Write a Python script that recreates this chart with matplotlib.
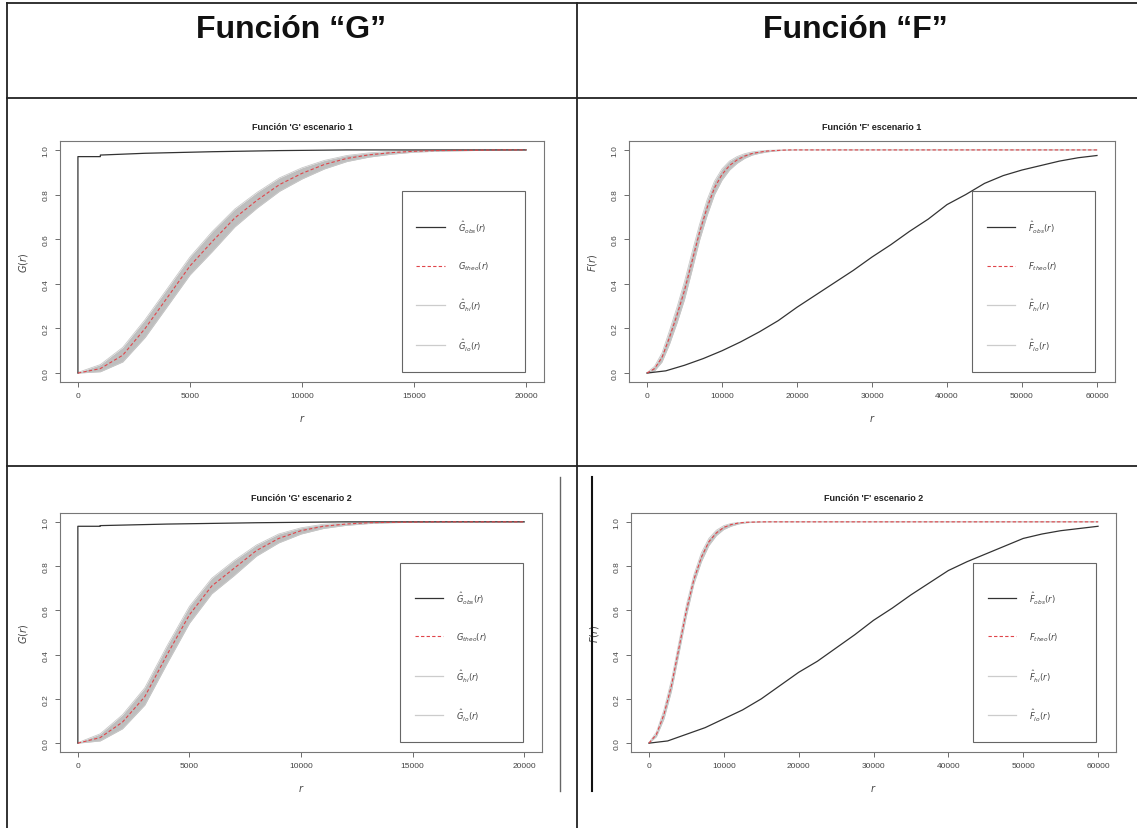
import matplotlib
matplotlib.use('Agg')
import matplotlib.pyplot as plt
from matplotlib.lines import Line2D
from matplotlib.patches import Rectangle

plt.rcParams['font.family'] = ['Liberation Sans', 'DejaVu Sans']
plt.rcParams['mathtext.fontset'] = 'dejavusans'

W, H = 1137, 829

# ---- data ----
g_r = [0, 1000, 2000, 3000, 4000, 5000, 6000, 7000, 8000, 9000, 10000,
       11000, 12000, 13000, 14000, 15000, 16000, 17000, 18000, 19000, 20000]

g1_theo = [0, 0.02, 0.08, 0.20, 0.34, 0.48, 0.59, 0.695, 0.775, 0.845, 0.895,
           0.935, 0.962, 0.978, 0.988, 0.994, 0.997, 0.998, 0.999, 1.0, 1.0]
g1_hi = [0.003, 0.038, 0.115, 0.24, 0.38, 0.52, 0.635, 0.735, 0.81, 0.875, 0.92,
         0.953, 0.975, 0.987, 0.994, 0.998, 0.999, 1.0, 1.0, 1.0, 1.0]
g1_lo = [0.0, 0.006, 0.05, 0.16, 0.30, 0.44, 0.545, 0.655, 0.74, 0.815, 0.87,
         0.915, 0.948, 0.968, 0.981, 0.99, 0.994, 0.996, 0.998, 0.999, 1.0]
g1_obs_r = [0, 0, 1000, 1000, 3000, 6000, 9000, 12000, 20000]
g1_obs = [0, 0.97, 0.97, 0.977, 0.985, 0.992, 0.997, 1.0, 1.0]

g2_theo = [0, 0.025, 0.095, 0.21, 0.40, 0.58, 0.71, 0.79, 0.87, 0.925, 0.96,
           0.98, 0.99, 0.996, 0.998, 0.999, 1.0, 1.0, 1.0, 1.0, 1.0]
g2_hi = [0.002, 0.042, 0.128, 0.25, 0.44, 0.618, 0.745, 0.825, 0.895, 0.945, 0.973,
         0.989, 0.995, 0.998, 0.999, 1.0, 1.0, 1.0, 1.0, 1.0, 1.0]
g2_lo = [0.0, 0.01, 0.065, 0.172, 0.36, 0.542, 0.675, 0.757, 0.845, 0.905, 0.945,
         0.97, 0.984, 0.992, 0.996, 0.998, 0.999, 1.0, 1.0, 1.0, 1.0]
g2_obs_r = [0, 0, 1000, 1000, 4000, 8000, 12000, 20000]
g2_obs = [0, 0.98, 0.98, 0.983, 0.99, 0.996, 1.0, 1.0]

f_r = [0, 1000, 2000, 3000, 4000, 5000, 6000, 7000, 8000, 9000, 10000,
       11000, 12000, 13000, 14000, 15000, 16000, 17000, 18000, 19000, 20000,
       30000, 40000, 50000, 60000]

f1_theo = [0, 0.02, 0.07, 0.16, 0.26, 0.37, 0.50, 0.63, 0.74, 0.83, 0.89,
           0.93, 0.955, 0.972, 0.984, 0.99, 0.995, 0.997, 0.999, 1.0, 1.0,
           1.0, 1.0, 1.0, 1.0]
f1_hi = [0.002, 0.03, 0.09, 0.19, 0.295, 0.41, 0.54, 0.665, 0.775, 0.86, 0.915,
         0.95, 0.97, 0.983, 0.991, 0.995, 0.998, 0.999, 1.0, 1.0, 1.0,
         1.0, 1.0, 1.0, 1.0]
f1_lo = [0.0, 0.01, 0.05, 0.13, 0.225, 0.33, 0.46, 0.595, 0.705, 0.80, 0.865,
         0.91, 0.94, 0.962, 0.977, 0.985, 0.991, 0.995, 0.998, 0.999, 1.0,
         1.0, 1.0, 1.0, 1.0]

f2_theo = [0, 0.04, 0.13, 0.26, 0.43, 0.60, 0.74, 0.84, 0.91, 0.95, 0.975,
           0.988, 0.995, 0.998, 0.999, 1.0, 1.0, 1.0, 1.0, 1.0, 1.0,
           1.0, 1.0, 1.0, 1.0]
f2_hi = [0.002, 0.05, 0.15, 0.285, 0.455, 0.625, 0.76, 0.86, 0.925, 0.962, 0.983,
         0.993, 0.997, 0.999, 1.0, 1.0, 1.0, 1.0, 1.0, 1.0, 1.0,
         1.0, 1.0, 1.0, 1.0]
f2_lo = [0.0, 0.03, 0.11, 0.235, 0.405, 0.575, 0.72, 0.82, 0.893, 0.938, 0.966,
         0.981, 0.991, 0.996, 0.998, 0.999, 1.0, 1.0, 1.0, 1.0, 1.0,
         1.0, 1.0, 1.0, 1.0]

obs_r = [0, 2500, 5000, 7500, 10000, 12500, 15000, 17500, 20000, 22500, 25000,
         27500, 30000, 32500, 35000, 37500, 40000, 42500, 45000, 47500, 50000,
         52500, 55000, 57500, 60000]
f1_obs = [0, 0.01, 0.035, 0.065, 0.10, 0.14, 0.185, 0.235, 0.295, 0.35, 0.405,
          0.46, 0.52, 0.575, 0.635, 0.69, 0.755, 0.80, 0.85, 0.885, 0.91,
          0.93, 0.95, 0.965, 0.975]
f2_obs = [0, 0.01, 0.04, 0.07, 0.11, 0.15, 0.20, 0.26, 0.32, 0.37, 0.43,
          0.49, 0.555, 0.61, 0.67, 0.725, 0.78, 0.82, 0.855, 0.89, 0.925,
          0.945, 0.96, 0.97, 0.98]

headers = ['Función “G”', 'Función “F”']
titles = ["Función 'G' escenario 1", "Función 'F' escenario 1",
          "Función 'G' escenario 2", "Función 'F' escenario 2"]
g_labels = [r'$\hat{G}_{obs}(r)$', r'$G_{theo}(r)$', r'$\hat{G}_{hi}(r)$', r'$\hat{G}_{lo}(r)$']
f_labels = [r'$\hat{F}_{obs}(r)$', r'$F_{theo}(r)$', r'$\hat{F}_{hi}(r)$', r'$\hat{F}_{lo}(r)$']

fig = plt.figure(figsize=(W / 100, H / 100), dpi=100)
fig.patch.set_facecolor('white')


def px_line(x0, y0, x1, y1, color='#222222', lw=1.3):
    fig.add_artist(Line2D([x0 / W, x1 / W], [1 - y0 / H, 1 - y1 / H],
                          transform=fig.transFigure, color=color, lw=lw))


# table grid
px_line(7, 4, W, 4)
px_line(7, 99, W, 99)
px_line(7, 467, W, 467)
px_line(7, 4, 7, H)
px_line(577, 4, 577, H)
# edges of the pasted pictures in the lower row
px_line(560, 478, 560, 792, color='#666666', lw=1.0)
px_line(592, 478, 592, 792, color='#111111', lw=1.5)

fig.text(291 / W, 1 - 30 / H, headers[0], ha='center', va='center',
         fontsize=23, fontweight='bold', color='#111111')
fig.text(855 / W, 1 - 30 / H, headers[1], ha='center', va='center',
         fontsize=23, fontweight='bold', color='#111111')


def make_ax(x0, y0, x1, y1):
    ax = fig.add_axes([x0 / W, 1 - y1 / H, (x1 - x0) / W, (y1 - y0) / H])
    for s in ax.spines.values():
        s.set_color('#777777')
        s.set_linewidth(0.8)
    ax.tick_params(colors='#555555', labelcolor='#444444', labelsize=6,
                   length=3.5, width=0.6, pad=4)
    return ax


def panel(ax, r, theo, hi, lo, obs_x, obs_y, xmax, xticks, title, ylab, labels):
    ax.fill_between(r, lo, hi, color='#BEBEBE', lw=0)
    ax.plot(r, hi, color='#C8C8C8', lw=0.6)
    ax.plot(r, lo, color='#C8C8C8', lw=0.6)
    ax.plot(obs_x, obs_y, color='#333333', lw=0.9)
    ax.plot(r, theo, color='#E0454A', lw=0.8, ls=(0, (3, 2)))
    pad = xmax * 0.04
    ax.set_xlim(-pad, xmax + pad)
    ax.set_ylim(-0.04, 1.04)
    ax.set_xticks(xticks)
    ax.set_yticks([0, 0.2, 0.4, 0.6, 0.8, 1.0])
    ax.set_yticklabels(['0.0', '0.2', '0.4', '0.6', '0.8', '1.0'], rotation=90, va='center')
    ax.set_title(title, fontsize=6.5, fontweight='bold', color='#222222', pad=9)
    ax.set_xlabel('$r$', fontsize=7, color='#444444', labelpad=9)
    ax.set_ylabel(ylab, fontsize=7, color='#444444', labelpad=9)

    # legend box, R style
    bx0, bx1 = 0.7225 * xmax, 0.9965 * xmax
    ax.add_patch(Rectangle((bx0, 0.005), bx1 - bx0, 0.811, fill=False,
                           edgecolor='#666666', lw=0.8))
    styles = [dict(color='#333333', lw=0.9),
              dict(color='#E0454A', lw=0.8, ls=(0, (3, 2))),
              dict(color='#CCCCCC', lw=0.9),
              dict(color='#CCCCCC', lw=0.9)]
    for yy, lab, st in zip([0.654, 0.482, 0.304, 0.127], labels, styles):
        ax.plot([0.755 * xmax, 0.818 * xmax], [yy, yy], **st)
        ax.text(0.847 * xmax, yy, lab, fontsize=6, color='#444444', va='center', ha='left')


g_ticks = [0, 5000, 10000, 15000, 20000]
f_ticks = [0, 10000, 20000, 30000, 40000, 50000, 60000]

ax1 = make_ax(60, 142, 544, 383)
panel(ax1, g_r, g1_theo, g1_hi, g1_lo, g1_obs_r, g1_obs, 20000, g_ticks,
      titles[0], '$G(r)$', g_labels)

ax2 = make_ax(629, 142, 1115, 383)
panel(ax2, f_r, f1_theo, f1_hi, f1_lo, obs_r, f1_obs, 60000, f_ticks,
      titles[1], '$F(r)$', f_labels)

ax3 = make_ax(60, 514, 542, 753)
panel(ax3, g_r, g2_theo, g2_hi, g2_lo, g2_obs_r, g2_obs, 20000, g_ticks,
      titles[2], '$G(r)$', g_labels)

ax4 = make_ax(631, 514, 1116, 753)
panel(ax4, f_r, f2_theo, f2_hi, f2_lo, obs_r, f2_obs, 60000, f_ticks,
      titles[3], '$F(r)$', f_labels)

plt.savefig('out.png', dpi=100)
print("Saved: out.png")
